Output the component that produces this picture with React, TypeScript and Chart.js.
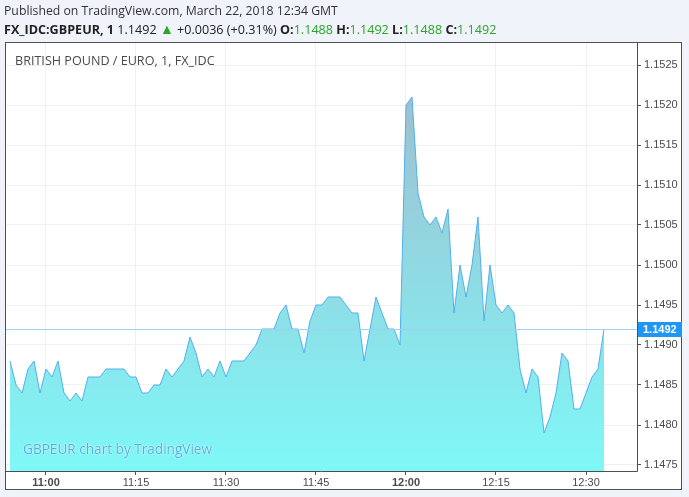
import React, { useEffect, useRef } from "react";
import { Chart, registerables } from "chart.js";

Chart.register(...registerables);

const times = [
  "10:54", "10:55", "10:56", "10:57", "10:58", "10:59",
  "11:00", "11:01", "11:02", "11:03", "11:04", "11:05", "11:06", "11:07", "11:08", "11:09",
  "11:10", "11:11", "11:12", "11:13", "11:14", "11:15", "11:16", "11:17", "11:18", "11:19",
  "11:20", "11:21", "11:22", "11:23", "11:24", "11:25", "11:26", "11:27", "11:28", "11:29",
  "11:30", "11:31", "11:32", "11:33", "11:34", "11:35", "11:36", "11:37", "11:38", "11:39",
  "11:40", "11:41", "11:42", "11:43", "11:44", "11:45", "11:46", "11:47", "11:48", "11:49",
  "11:50", "11:51", "11:52", "11:53", "11:54", "11:55", "11:56", "11:57", "11:58", "11:59",
  "12:00", "12:01", "12:02", "12:03", "12:04", "12:05", "12:06", "12:07", "12:08", "12:09",
  "12:10", "12:11", "12:12", "12:13", "12:14", "12:15", "12:16", "12:17", "12:18", "12:19",
  "12:20", "12:21", "12:22", "12:23", "12:24", "12:25", "12:26", "12:27", "12:28", "12:29",
  "12:30", "12:31", "12:32", "12:33",
];

const prices = [
  1.1488, 1.1485, 1.1484, 1.1487, 1.1488, 1.1484, 1.1487, 1.1486, 1.1488, 1.1484,
  1.1483, 1.1484, 1.1483, 1.1486, 1.1486, 1.1486, 1.1487, 1.1487, 1.1487, 1.1487,
  1.1486, 1.1486, 1.1484, 1.1484, 1.1485, 1.1485, 1.1487, 1.1486, 1.1487, 1.1488,
  1.1491, 1.1489, 1.1486, 1.1487, 1.1486, 1.1488, 1.1486, 1.1488, 1.1488, 1.1488,
  1.1489, 1.149, 1.1492, 1.1492, 1.1492, 1.1494, 1.1495, 1.1492, 1.1492, 1.1489,
  1.1493, 1.1495, 1.1495, 1.1496, 1.1496, 1.1496, 1.1495, 1.1494, 1.1494, 1.1488,
  1.1492, 1.1496, 1.1494, 1.1492, 1.1492, 1.149, 1.152, 1.1521, 1.1509, 1.1506,
  1.1505, 1.1506, 1.1504, 1.1507, 1.1494, 1.15, 1.1496, 1.15, 1.1506, 1.1493,
  1.15, 1.1495, 1.1494, 1.1495, 1.1494, 1.1487, 1.1484, 1.1487, 1.1486, 1.1479,
  1.1481, 1.1484, 1.1489, 1.1488, 1.1482, 1.1482, 1.1484, 1.1486, 1.1487, 1.1492,
];

const yTicks = [1.1475, 1.148, 1.1485, 1.149, 1.1495, 1.15, 1.1505, 1.151, 1.1515, 1.152, 1.1525];
const xTickLabels = ["11:00", "11:15", "11:30", "11:45", "12:00", "12:15", "12:30"];
const boldXTicks = ["11:00", "12:00"];
const lastPrice = 1.1492;
const yMin = 1.147425;
const yMax = 1.152775;
const xMinLabel = "10:53:20";
const xMaxLabel = "12:38:30";

const toMin = (t: string) => {
  const p = t.split(":").map(Number);
  return p[0] * 60 + p[1] + (p[2] || 0) / 60;
};
const fmt = (m: number) => {
  const h = Math.floor(m / 60);
  const mm = Math.round(m - h * 60);
  return `${h}:${mm < 10 ? "0" : ""}${mm}`;
};

const GREEN = "#2aa52a";

export default function App() {
  const ref = useRef<HTMLCanvasElement>(null);

  useEffect(() => {
    const canvas = ref.current!;
    const framePlugin = {
      id: "frame",
      beforeDraw(chart: any) {
        const c = chart.ctx;
        c.save();
        c.fillStyle = "#f0f3fa";
        c.fillRect(0, 0, chart.width, chart.height);
        c.fillStyle = "#ffffff";
        c.fillRect(5, 42, 677, 448);
        c.restore();
      },
      afterDatasetsDraw(chart: any) {
        const c = chart.ctx;
        const a = chart.chartArea;
        const y = Math.round(chart.scales.y.getPixelForValue(lastPrice)) + 0.5;
        c.save();
        c.strokeStyle = "#9fd0f6";
        c.lineWidth = 1;
        c.beginPath();
        c.moveTo(a.left, y);
        c.lineTo(a.right, y);
        c.stroke();
        c.restore();
      },
      afterDraw(chart: any) {
        const c = chart.ctx;
        const a = chart.chartArea;
        c.save();
        c.strokeStyle = "#4f4f4f";
        c.lineWidth = 1;
        c.strokeRect(5.5, 42.5, 676, 447);
        c.beginPath();
        c.moveTo(Math.round(a.right) + 0.5, 42.5);
        c.lineTo(Math.round(a.right) + 0.5, Math.round(a.bottom) + 0.5);
        c.lineTo(5.5, Math.round(a.bottom) + 0.5);
        c.stroke();
        const y = Math.round(chart.scales.y.getPixelForValue(lastPrice));
        c.fillStyle = "#1e96f3";
        c.fillRect(Math.round(a.right) + 1, y - 7, 44, 15);
        c.fillStyle = "#ffffff";
        c.font = "bold 11px 'Liberation Sans'";
        c.textBaseline = "middle";
        c.fillText(lastPrice.toFixed(4), Math.round(a.right) + 6, y + 0.5);
        c.restore();
      },
    };

    const chart = new Chart(canvas, {
      type: "line",
      data: {
        datasets: [
          {
            data: prices.map((v, i) => ({ x: toMin(times[i]), y: v })),
            borderColor: "#52aff0",
            borderWidth: 1,
            pointRadius: 0,
            tension: 0,
            fill: "start",
            backgroundColor: (ctx: any) => {
              const ch = ctx.chart;
              const area = ch.chartArea;
              if (!area) return "#8ee3ea";
              const g = ch.ctx.createLinearGradient(0, 98, 0, area.bottom);
              g.addColorStop(0, "rgb(158,192,208)");
              g.addColorStop(1, "rgb(127,248,248)");
              return g;
            },
          },
        ],
      },
      options: {
        animation: false,
        responsive: false,
        layout: { padding: { left: 6, top: 43, right: 8, bottom: 8 } },
        plugins: { legend: { display: false }, tooltip: { enabled: false } },
        scales: {
          x: {
            type: "linear",
            min: toMin(xMinLabel),
            max: toMin(xMaxLabel),
            afterBuildTicks: (s: any) => {
              s.ticks = xTickLabels.map((t) => ({ value: toMin(t) }));
            },
            afterFit: (s: any) => {
              s.height = 18;
            },
            border: { display: false },
            grid: {
              color: "#edf1f7",
              tickColor: "#555",
              tickLength: 4,
            },
            ticks: {
              autoSkip: false,
              maxRotation: 0,
              padding: 1,
              color: "#4a4a4a",
              font: (ctx: any) => ({
                family: "'Liberation Sans'",
                size: 11,
                weight: ctx.tick && boldXTicks.includes(fmt(ctx.tick.value)) ? "bold" : "normal",
              }),
              callback: (v: any) => fmt(Number(v)),
            },
          },
          y: {
            position: "right",
            min: yMin,
            max: yMax,
            afterBuildTicks: (s: any) => {
              s.ticks = yTicks.map((v) => ({ value: v }));
            },
            afterFit: (s: any) => {
              s.width = 44;
            },
            border: { display: false },
            grid: {
              color: "#edf1f7",
              tickColor: "#555",
              tickLength: 4,
            },
            ticks: {
              padding: 3,
              color: "#4a4a4a",
              font: { family: "'Liberation Sans'", size: 11 },
              callback: (v: any) => Number(v).toFixed(4),
            },
          },
        },
      },
      plugins: [framePlugin],
    } as any);
    return () => chart.destroy();
  }, []);

  const font = "'Open Sans', 'Noto Sans', sans-serif";
  return (
    <div
      style={{
        position: "fixed",
        left: 0,
        top: 0,
        width: 689,
        height: 497,
        background: "#f0f3fa",
        overflow: "hidden",
        fontFamily: font,
      }}
    >
      <canvas ref={ref} width={689} height={497} style={{ position: "absolute", left: 0, top: 0, width: 689, height: 497 }} />
      <div style={{ position: "absolute", left: 4, top: 2, fontSize: 12.25, lineHeight: "18px", color: "#333", whiteSpace: "nowrap" }}>
        Published on TradingView.com, March 22, 2018 12:34 GMT
      </div>
      <div style={{ position: "absolute", left: 4, top: 20, fontSize: 12.6, lineHeight: "18px", color: "#222", whiteSpace: "nowrap" }}>
        <b>FX_IDC:GBPEUR, 1</b> 1.1492 <span style={{ color: GREEN, fontSize: 14 }}>▲</span> +0.0036 (+0.31%) <b>O:</b>
        <span style={{ color: GREEN }}>1.1488</span> <b>H:</b>
        <span style={{ color: GREEN }}>1.1492</span> <b>L:</b>
        <span style={{ color: GREEN }}>1.1488</span> <b>C:</b>
        <span style={{ color: GREEN }}>1.1492</span>
      </div>
      <div style={{ position: "absolute", left: 15, top: 52, fontSize: 12.6, lineHeight: "18px", color: "#4a4a4a", whiteSpace: "nowrap" }}>
        BRITISH POUND / EURO, 1, FX_IDC
      </div>
      <div
        style={{
          position: "absolute",
          left: 23,
          top: 439,
          fontSize: 13.6,
          lineHeight: "20px",
          color: "#4bb0e2",
          whiteSpace: "nowrap",
          textShadow: "0 0 1.5px #fff, 0 0 1px #fff",
        }}
      >
        GBPEUR chart by TradingView
      </div>
    </div>
  );
}
